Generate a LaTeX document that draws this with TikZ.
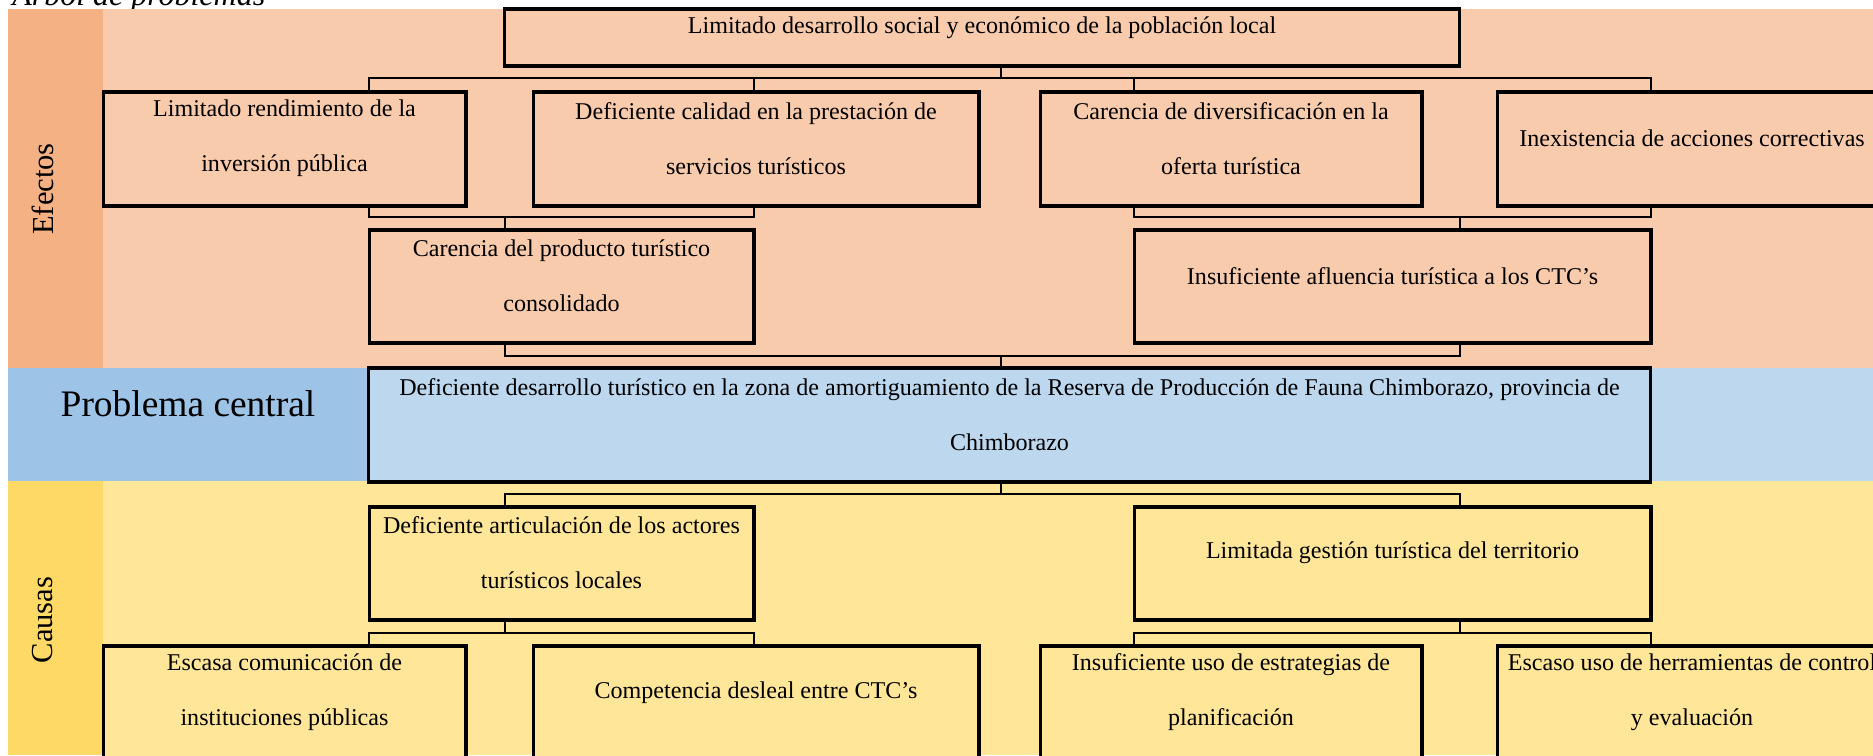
\documentclass[tikz,border=0pt]{standalone}
\usepackage{fontspec}
\setmainfont{Liberation Serif}

\definecolor{efoscuro}{HTML}{F4B183}
\definecolor{efclaro}{HTML}{F8CBAD}
\definecolor{pcoscuro}{HTML}{9DC3E6}
\definecolor{pcclaro}{HTML}{BDD7EE}
\definecolor{caoscuro}{HTML}{FFD966}
\definecolor{caclaro}{HTML}{FFE699}

\begin{document}
\begin{tikzpicture}[x=0.02cm, y=-0.02cm,
	caja/.style={draw=black, line width=1.75pt, inner sep=0pt, outer sep=0pt, minimum height=2.28cm},
	txt/.style={inner sep=0pt, align=center, font=\fontsize{13.7}{31.3}\selectfont},
	banda/.style={inner sep=0pt, font=\fontsize{17.4}{20}\selectfont},
	linea/.style={line width=0.7pt}]

	\useasboundingbox (0,0) rectangle (1873,755);
	\clip (0,0) rectangle (1873,755);

	\node[anchor=base west, inner sep=0pt, font=\fontsize{18.2}{20}\selectfont\itshape] (titulo) at (12,5) {Árbol de problemas};

	% bandas de fondo
	\fill[efoscuro] (8,9) rectangle (103,368);
	\fill[efclaro] (103,9) rectangle (1873,368);
	\fill[pcoscuro] (8,368) rectangle (368,481);
	\fill[pcclaro] (368,368) rectangle (1873,481);
	\fill[caoscuro] (8,481) rectangle (103,755);
	\fill[caclaro] (103,481) rectangle (1873,755);

	\node[banda, rotate=90] (efectos) at (43,189) {Efectos};
	\node[banda, rotate=90] (causas) at (43,620) {Causas};
	\node[inner sep=0pt, font=\fontsize{21.3}{24}\selectfont] (pcentral) at (188,404) {Problema central};

	% efectos
	\node[caja, fill=efclaro, minimum width=19.12cm, minimum height=1.14cm] (sup) at (982,37.5) {};
	\node[txt] (supt) at ([yshift=5.5pt]sup.center) {Limitado desarrollo social y económico de la población local};

	\node[caja, fill=efclaro, minimum width=7.26cm] (ef1) at (284.5,149) {};
	\node[txt] (ef1t) at ([yshift=6pt]ef1.center) {Limitado rendimiento de la\\inversión pública};
	\node[caja, fill=efclaro, minimum width=8.92cm] (ef2) at (756,149) {};
	\node[txt] (ef2t) at ([yshift=6pt]ef2.center) {Deficiente calidad en la prestación de\\servicios turísticos};
	\node[caja, fill=efclaro, minimum width=7.64cm] (ef3) at (1231,149) {};
	\node[txt] (ef3t) at ([yshift=6pt]ef3.center) {Carencia de diversificación en la\\oferta turística};
	\node[caja, fill=efclaro, minimum width=7.80cm] (ef4) at (1692,149) {};
	\node[txt] (ef4t) at ([yshift=6pt]ef4.center) {Inexistencia de acciones correctivas};

	\node[caja, fill=efclaro, minimum width=7.70cm, minimum height=2.26cm] (ef5) at (561.5,286.5) {};
	\node[txt] (ef5t) at ([yshift=6pt]ef5.center) {Carencia del producto turístico\\consolidado};
	\node[caja, fill=efclaro, minimum width=10.34cm, minimum height=2.26cm] (ef6) at (1392.5,286.5) {};
	\node[txt] (ef6t) at ([yshift=6pt]ef6.center) {Insuficiente afluencia turística a los CTC's};

	% problema central
	\node[caja, fill=pcclaro, minimum width=25.66cm] (cen) at (1009.5,425) {};
	\node[txt] (cent) at ([yshift=6pt]cen.center) {Deficiente desarrollo turístico en la zona de amortiguamiento de la Reserva de Producción de Fauna Chimborazo, provincia de\\Chimborazo};

	% causas
	\node[caja, fill=caclaro, minimum width=7.70cm, minimum height=2.26cm] (ca1) at (561.5,563.5) {};
	\node[txt] (ca1t) at ([yshift=6pt]ca1.center) {Deficiente articulación de los actores\\turísticos locales};
	\node[caja, fill=caclaro, minimum width=10.34cm, minimum height=2.26cm] (ca2) at (1392.5,563.5) {};
	\node[txt] (ca2t) at ([yshift=6pt]ca2.center) {Limitada gestión turística del territorio};

	\node[caja, fill=caclaro, minimum width=7.26cm] (ca3) at (284.5,703) {};
	\node[txt] (ca3t) at ([yshift=6pt]ca3.center) {Escasa comunicación de\\instituciones públicas};
	\node[caja, fill=caclaro, minimum width=8.92cm] (ca4) at (756,703) {};
	\node[txt] (ca4t) at ([yshift=6pt]ca4.center) {Competencia desleal entre CTC's};
	\node[caja, fill=caclaro, minimum width=7.64cm] (ca5) at (1231,703) {};
	\node[txt] (ca5t) at ([yshift=6pt]ca5.center) {Insuficiente uso de estrategias de\\planificación};
	\node[caja, fill=caclaro, minimum width=7.80cm] (ca6) at (1692,703) {};
	\node[txt] (ca6t) at ([yshift=6pt]ca6.center) {Escaso uso de herramientas de control\\y evaluación};

	% conectores
	\coordinate (eje) at (1001,0);
	\coordinate (izq) at (505,0);
	\coordinate (der) at (1460,0);
	\coordinate (b1) at (1001,78);
	\coordinate (b2) at (0,217);
	\coordinate (b3) at (1001,356);
	\coordinate (b4) at (1001,494);
	\coordinate (b5) at (0,633);

	\draw[linea] (sup.south -| eje) -- (b1);
	\draw[linea] (ef5.west |- ef1.north) |- (b1) -| (ef6.east |- ef4.north);
	\draw[linea] (ef5.east |- b1) -- (ef5.east |- ef2.north);
	\draw[linea] (ef6.west |- b1) -- (ef6.west |- ef3.north);

	\draw[linea] (ef5.west |- ef1.south) |- (ef5.east |- b2) -- (ef5.east |- ef2.south);
	\draw[linea] (ef6.west |- ef3.south) |- (ef6.east |- b2) -- (ef6.east |- ef4.south);
	\draw[linea] (izq |- b2) -- (izq |- ef5.north);
	\draw[linea] (der |- b2) -- (der |- ef6.north);

	\draw[linea] (izq |- ef5.south) |- (b3) -| (der |- ef6.south);
	\draw[linea] (b3) -- (b3 |- cen.north);

	\draw[linea] (cen.south -| eje) -- (b4);
	\draw[linea] (izq |- ca1.north) |- (b4) -| (der |- ca2.north);

	\draw[linea] (izq |- ca1.south) -- (izq |- b5);
	\draw[linea] (der |- ca2.south) -- (der |- b5);
	\draw[linea] (ca1.west |- ca3.north) |- (ca1.east |- b5) -- (ca1.east |- ca4.north);
	\draw[linea] (ca2.west |- ca5.north) |- (ca2.east |- b5) -- (ca2.east |- ca6.north);

\end{tikzpicture}
\end{document}
